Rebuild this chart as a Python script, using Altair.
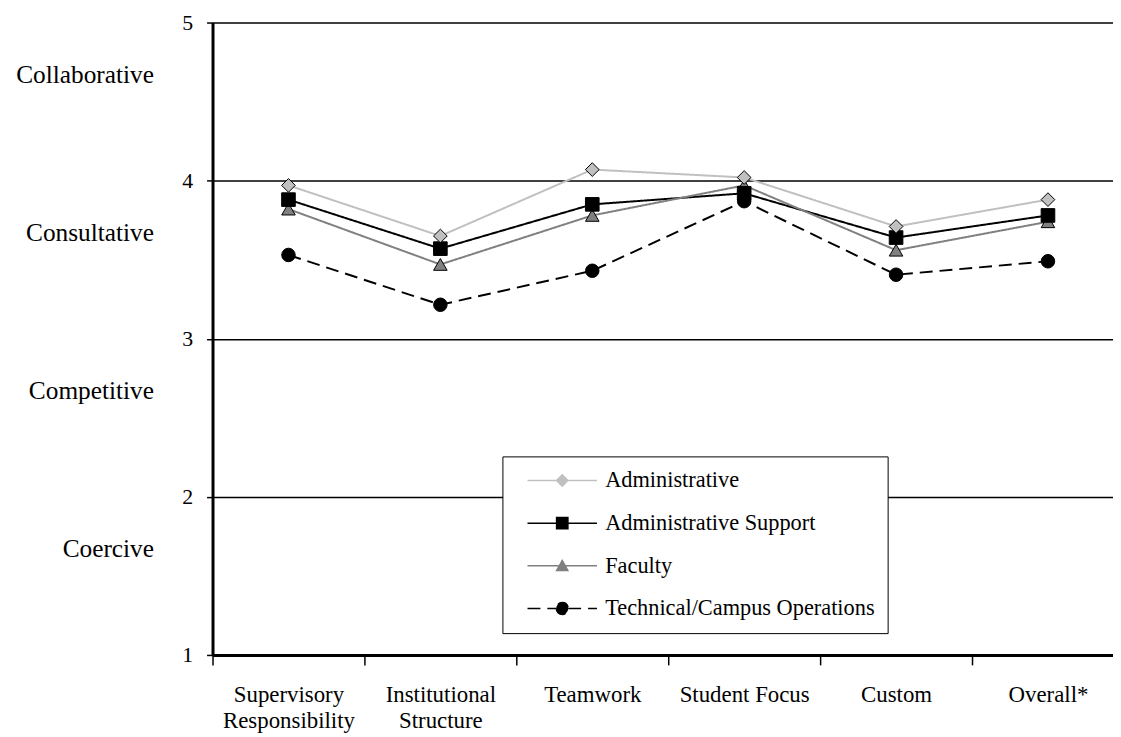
import json
import altair as alt
import pandas as pd

# ---------------- data ----------------
categories = ["Supervisory Responsibility", "Institutional Structure", "Teamwork",
              "Student Focus", "Custom", "Overall*"]
category_lines = [["Supervisory", "Responsibility"], ["Institutional", "Structure"],
                  ["Teamwork"], ["Student Focus"], ["Custom"], ["Overall*"]]
groups = ["Administrative", "Administrative Support", "Faculty", "Technical/Campus Operations"]

administrative = [3.97, 3.65, 4.07, 4.02, 3.71, 3.88]
administrative_support = [3.88, 3.57, 3.85, 3.92, 3.64, 3.78]
faculty = [3.82, 3.47, 3.78, 3.97, 3.56, 3.74]
technical_campus = [3.53, 3.215, 3.43, 3.87, 3.405, 3.49]

y_ticks = [1, 2, 3, 4, 5]
style_names = ["Collaborative", "Consultative", "Competitive", "Coercive"]
style_positions = [4.62, 3.62, 2.62, 1.62]

# ---------------- styles ----------------
FONT = "Liberation Serif"
line_colors = ["#c0c0c0", "#000000", "#808080", "#000000"]
fill_colors = ["#c0c0c0", "#000000", "#808080", "#000000"]
dashes = [[1, 0], [1, 0], [1, 0], [13, 7]]
shapes = ["diamond", "square", "triangle-up", "circle"]
sizes = [190, 185, 205, 250]
legend_paths = [
    "M-5.83,0H-0.95M0.95,0H5.83M-0.95,0L0,-0.95L0.95,0L0,0.95Z",
    "M-5.83,0H-0.95M0.95,0H5.83M-0.95,-0.95H0.95V0.95H-0.95Z",
    "M-5.83,0H-0.6M0.6,0H5.83M0,-0.9L0.95,0.8L-0.95,0.8Z",
    "M-5.83,0H-1M1,0H5.83M-1,0A1,1 0 1,0 1,0A1,1 0 1,0 -1,0Z",
]

rows = []
for gi, (g, vals) in enumerate(zip(groups, [administrative, administrative_support,
                                            faculty, technical_campus])):
    for c, v in zip(categories, vals):
        rows.append({"category": c, "group": g, "lgroup": g, "value": v, "z": len(groups) - gi})
df = pd.DataFrame(rows)
styles_df = pd.DataFrame({"name": style_names, "value": style_positions})

label_expr = " : ".join(
    f"datum.value === {json.dumps(c)} ? {json.dumps(l)}" for c, l in zip(categories, category_lines)
) + " : datum.label"

x_enc = alt.X(
    "category:N", sort=categories, bandPosition=0.5, title=None,
    scale=alt.Scale(type="band", range=[0, 918], paddingInner=0, paddingOuter=0),
    axis=alt.Axis(title=None, labelAngle=0, tickBand="extent", tickSize=10, tickColor="black",
                  tickWidth=1.5, domainColor="black", domainWidth=3, labelFont=FONT,
                  labelFontSize=23, labelColor="black", labelLineHeight=26, labelPadding=19,
                  labelExpr=label_expr, grid=False, labelOverlap=False, labelLimit=0),
)
y_enc = alt.Y(
    "value:Q", title=None, scale=alt.Scale(domain=[1, 5], nice=False, zero=False),
    axis=alt.Axis(title=None, values=y_ticks, format="d", grid=True, gridColor="black",
                  gridWidth=1.5, gridOpacity=1, domainColor="black", domainWidth=3,
                  tickColor="black", tickSize=6, tickWidth=1.5, labelFont=FONT,
                  labelFontSize=22, labelPadding=14, labelColor="black"),
)
x_plain = alt.X("category:N", sort=categories, bandPosition=0.5, title=None)
y_plain = alt.Y("value:Q", title=None)

lines = alt.Chart(df).mark_line(strokeWidth=2).encode(
    x=x_enc,
    y=y_enc,
    color=alt.Color("group:N", scale=alt.Scale(domain=groups, range=line_colors), legend=None),
    strokeDash=alt.StrokeDash("group:N", scale=alt.Scale(domain=groups, range=dashes), legend=None),
    detail="group:N",
)

points = alt.Chart(df).mark_point(filled=True, stroke="black", strokeWidth=1, opacity=1).encode(
    x=x_plain,
    y=y_plain,
    shape=alt.Shape("group:N", scale=alt.Scale(domain=groups, range=shapes), legend=None),
    fill=alt.Fill("group:N", scale=alt.Scale(domain=groups, range=fill_colors), legend=None),
    size=alt.Size("group:N", scale=alt.Scale(domain=groups, range=sizes), legend=None),
    order=alt.Order("z:Q"),
)

legend = alt.Legend(
    title=None, orient="none", legendX=292, legendY=437, strokeColor="black",
    fillColor="white", padding=13, labelFont=FONT, labelFontSize=22.5, labelColor="black",
    symbolSize=144, symbolStrokeWidth=1.5, rowPadding=20, symbolOffset=36, labelOffset=32,
    labelLimit=0, symbolOpacity=1,
)

legend_layer = alt.Chart(df).transform_filter("false").mark_point(
    filled=True, strokeWidth=1.5, opacity=1
).encode(
    x=x_plain,
    y=y_plain,
    shape=alt.Shape("lgroup:N", scale=alt.Scale(domain=groups, range=legend_paths), legend=legend),
    fill=alt.Fill("lgroup:N", scale=alt.Scale(domain=groups, range=fill_colors)),
    stroke=alt.Stroke("lgroup:N", scale=alt.Scale(domain=groups, range=line_colors)),
    strokeDash=alt.StrokeDash("lgroup:N", scale=alt.Scale(domain=groups, range=dashes)),
)

style_text = alt.Chart(styles_df).mark_text(
    align="right", baseline="alphabetic", font=FONT, fontSize=25.5, color="black"
).encode(
    x=alt.value(-59),
    y=y_plain,
    text="name:N",
)

chart = alt.layer(lines, points, style_text, legend_layer).resolve_scale(
    shape="independent", fill="independent", stroke="independent", strokeDash="independent"
).properties(
    width=907, height=637,
    padding={"left": 206, "top": 12, "right": 0, "bottom": 82},
    autosize=alt.AutoSizeParams(type="none"),
).configure(
    font=FONT, background="white",
).configure_view(
    stroke=None
).configure_axis(
    labelFont=FONT
).configure_legend(
    labelFont=FONT
)

chart.save("out.html", embed_options={"renderer": "svg", "actions": False})
